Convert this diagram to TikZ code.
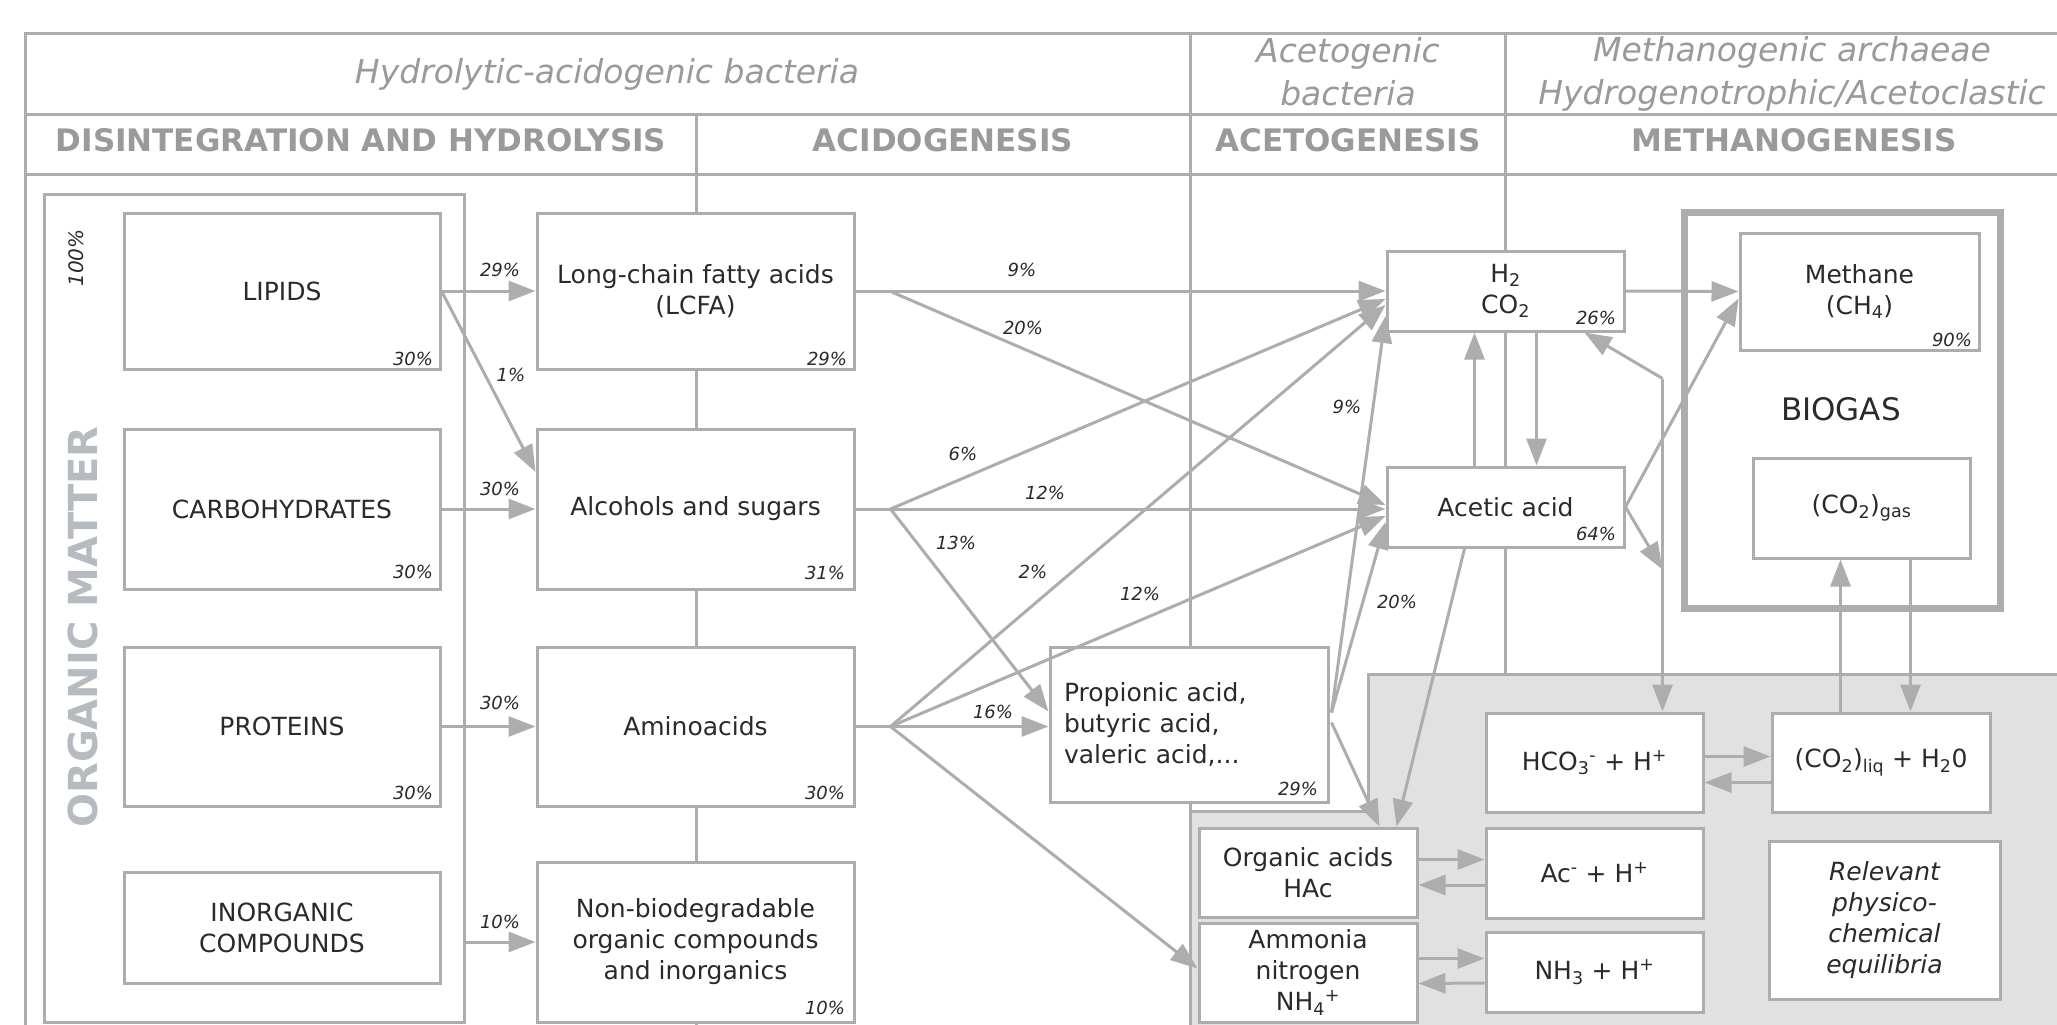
\documentclass[tikz,border=0pt]{standalone}
\usepackage{fontspec}
\setmainfont{DejaVu Sans}
\usetikzlibrary{arrows.meta,calc}
\definecolor{lg}{HTML}{ADADAD}
\definecolor{gfill}{HTML}{E1E1E1}
\definecolor{hdr}{HTML}{9A9A9A}
\definecolor{omc}{HTML}{B6BBC2}
\definecolor{txt}{HTML}{2A2A2A}
\newcommand\bxfont{\fontsize{25}{31}\selectfont}
\newcommand\pcfont{\fontsize{18}{20}\selectfont\itshape}
\newcommand\hbfont{\fontsize{31}{36}\selectfont\bfseries}
\newcommand\hifont{\fontsize{33}{43}\selectfont\itshape}
\begin{document}
\begin{tikzpicture}[x=1pt,y=-1pt,
  frame/.style={draw=lg, line width=3pt},
  box/.style={draw=lg, line width=3pt, fill=white, inner sep=0pt, align=center, text=txt, font=\bxfont},
  arr/.style={draw=lg, line width=3pt, -{Triangle[length=27pt,width=20pt]}},
  pct/.style={font=\pcfont, text=txt, inner sep=0pt},
  hb/.style={font=\hbfont, text=hdr, inner sep=0pt},
  hi/.style={font=\hifont, text=hdr, inner sep=0pt, align=center},
]
\useasboundingbox (0,0) rectangle (2057,1025);
\clip (0,0) rectangle (2057,1025);
\fill[white] (0,0) rectangle (2057,1025);

% table frame
\draw[frame] (25,1040) -- (25,34) -- (2070,34);
\draw[frame] (25,114) -- (2070,114);
\draw[frame] (25,174) -- (2070,174);
\draw[frame] (696,114) -- (696,1040);
\draw[frame] (1190,34) -- (1190,1040);
\draw[frame] (1505,34) -- (1505,674);

% grey equilibria region
\draw[frame, fill=gfill] (1190,811) -- (1368,811) -- (1368,674) -- (2070,674) -- (2070,1040) -- (1190,1040) -- cycle;

% headers
\node[hi] (hHyd) at (607,74) {Hydrolytic-acidogenic bacteria};
\node[hi] (hAce) at (1348,72) {Acetogenic\\bacteria};
\node[hi] (hMet) at (1792,74) {Methanogenic archaeae\\Hydrogenotrophic/Acetoclastic};
\node[hb] (tDis) at (361,140) {DISINTEGRATION AND HYDROLYSIS};
\node[hb] (tAcid) at (943,140) {ACIDOGENESIS};
\node[hb] (tAcet) at (1348,140) {ACETOGENESIS};
\node[hb] (tMeth) at (1794,140) {METHANOGENESIS};

% organic matter
\node[box, minimum width=420pt, minimum height=828pt] (om) at (254,608) {};
\node[font=\fontsize{40}{44}\selectfont\bfseries, text=omc, rotate=90, inner sep=0pt] (omlabel) at (83,627) {ORGANIC MATTER};
\node[font=\fontsize{20}{22}\selectfont\itshape, text=txt, rotate=90, inner sep=0pt] (hundred) at (76,258) {100\%};

\node[box, minimum width=316pt, minimum height=156pt] (lipids) at (282,291) {LIPIDS};
\node[box, minimum width=316pt, minimum height=160pt] (carbo) at (282,509) {CARBOHYDRATES};
\node[box, minimum width=316pt, minimum height=159pt] (proteins) at (282,726.5) {PROTEINS};
\node[box, minimum width=316pt, minimum height=111pt] (inorg) at (282,927.5) {INORGANIC\\COMPOUNDS};

% acidogenesis column
\node[box, minimum width=317pt, minimum height=156pt] (lcfa) at (695.5,291) {Long-chain fatty acids\\(LCFA)};
\node[box, minimum width=317pt, minimum height=160pt] (alc) at (695.5,509) {Alcohols and sugars};
\node[box, minimum width=317pt, minimum height=159pt] (amino) at (695.5,726.5) {Aminoacids};
\node[box, minimum width=317pt, minimum height=160pt] (nonbio) at (695.5,942) {Non-biodegradable\\organic compounds\\and inorganics};

% acetogenesis
\node[box, minimum width=278pt, minimum height=155pt, align=left, text width=250pt] (prop) at (1189,724.5) {Propionic acid,\\butyric acid,\\valeric acid,...};
\node[box, minimum width=237pt, minimum height=80pt] (h2) at (1505.5,291) {H\textsubscript{2}\\CO\textsubscript{2}};
\node[box, minimum width=237pt, minimum height=80pt] (acetic) at (1505.5,507) {Acetic acid};

% biogas
\node[draw=lg, line width=7pt, fill=white, inner sep=0pt, minimum width=316pt, minimum height=396pt] (biogas) at (1842,410) {};
\node[font=\fontsize{31}{36}\selectfont, text=txt, inner sep=0pt] (biogasT) at (1841,409) {BIOGAS};
\node[box, minimum width=239pt, minimum height=117pt] (methane) at (1859.5,291.5) {Methane\\(CH\textsubscript{4})};
\node[box, minimum width=217pt, minimum height=100pt] (co2gas) at (1861.5,508) {(CO\textsubscript{2})\textsubscript{gas}};

% equilibria boxes
\node[box, minimum width=218pt, minimum height=89pt] (orgac) at (1308,872.5) {Organic acids\\HAc};
\node[box, minimum width=218pt, minimum height=99pt] (amm) at (1308,972.5) {Ammonia\\nitrogen\\NH\textsubscript{4}\textsuperscript{+}};
\node[box, minimum width=217pt, minimum height=99pt] (hco3) at (1594.5,762.5) {HCO\textsubscript{3}\textsuperscript{-} + H\textsuperscript{+}};
\node[box, minimum width=218pt, minimum height=99pt] (co2liq) at (1881,762.5) {(CO\textsubscript{2})\textsubscript{liq} + H\textsubscript{2}0};
\node[box, minimum width=217pt, minimum height=90pt] (ac) at (1594.5,873) {Ac\textsuperscript{-} + H\textsuperscript{+}};
\node[box, minimum width=217pt, minimum height=80pt] (nh3) at (1594.5,972) {NH\textsubscript{3} + H\textsuperscript{+}};
\node[box, minimum width=231pt, minimum height=158pt, font=\bxfont\itshape] (relev) at (1884.5,920) {Relevant\\physico-\\chemical\\equilibria};

% percentages inside boxes
\node[pct] (pLip) at (413,359) {30\%};
\node[pct] (pCar) at (413,572) {30\%};
\node[pct] (pPro) at (413,793) {30\%};
\node[pct] (pLcfa) at (827,359) {29\%};
\node[pct] (pAlc) at (825,573) {31\%};
\node[pct] (pAmi) at (825,793) {30\%};
\node[pct] (pNon) at (825,1008) {10\%};
\node[pct] (pProp) at (1298,789) {29\%};
\node[pct] (pH2) at (1596,318) {26\%};
\node[pct] (pAcet) at (1596,534) {64\%};
\node[pct] (pMeth) at (1952,340) {90\%};

% arrows: hydrolysis
\draw[arr] (lipids.east) -- (lcfa.west);
\draw[arr] (lipids.east) -- ($(alc.west)+(0,-37)$);
\draw[arr] (carbo.east) -- (alc.west);
\draw[arr] (proteins.east) -- (amino.west);
\draw[arr] (om.east |- nonbio.west) -- (nonbio.west);

% LCFA
\coordinate (lcfaB) at ($(lcfa.east)+(34,0)$);
\draw[arr] (lcfa.east) -- (h2.west);
\draw[arr] (lcfaB) -- ($(acetic.west)+(0,-2)$);

% alcohols
\coordinate (alcB) at ($(alc.east)+(35,0)$);
\draw[arr] (alc.east) -- (alc.east -| acetic.west);
\draw[arr] (alcB) -- ($(h2.west)+(0,8)$);
\draw[arr] (alcB) -- ($(prop.west)+(0,-13)$);

% aminoacids
\coordinate (amiB) at ($(amino.east)+(35,0)$);
\draw[arr] (amino.east) -- (amino.east -| prop.west);
\draw[arr] (amiB) -- ($(h2.west)+(0,14)$);
\draw[arr] (amiB) -- ($(acetic.west)+(0,9)$);
\draw[arr] (amiB) -- ($(amm.west)+(0,-4)$);

% propionic
\coordinate (propB) at ($(prop.east)+(2,-12)$);
\coordinate (propC) at ($(prop.east)+(2,-2)$);
\draw[arr] (propB) -- ($(h2.west)+(0,25)$);
\draw[arr] (propB) -- ($(acetic.west)+(0,15)$);
\draw[arr] (propC) -- ($(orgac.north east)+(-39,0)$);

% acetic / H2
\draw[arr] ($(acetic.south west)+(79,0)$) -- ($(orgac.north east)+(-22,0)$);
\draw[arr] ($(acetic.north)+(-31,0)$) -- ($(h2.south)+(-31,0)$);
\draw[arr] ($(h2.south)+(31,0)$) -- ($(acetic.north)+(31,0)$);
\draw[arr] (h2.east) -- (methane.west);
\draw[arr] (acetic.east) -- ($(methane.west)+(0,7)$);
\coordinate (hj) at ($(hco3.north east)+(-42,-333)$);
\draw[arr] (acetic.east) -- ($(hj)+(0,191)$);
\draw[arr] (hj) -- ($(h2.south east)+(-41,0)$);
\draw[arr] (hj) -- (hj |- hco3.north);

% equilibria
\draw[arr] ($(hco3.east)+(0,-6)$) -- ($(co2liq.west)+(0,-6)$);
\draw[arr] ($(co2liq.west)+(0,20)$) -- ($(hco3.east)+(0,20)$);
\draw[arr] ($(orgac.east)+(0,-13)$) -- ($(ac.west)+(0,-13.5)$);
\draw[arr] ($(ac.west)+(0,12)$) -- ($(orgac.east)+(0,12.5)$);
\draw[arr] ($(amm.east)+(0,-14)$) -- ($(nh3.west)+(0,-13.5)$);
\draw[arr] ($(nh3.west)+(0,11)$) -- ($(amm.east)+(0,11)$);
\draw[arr] ($(co2liq.north west)+(70,0)$) -- ($(co2gas.south west)+(89,0)$);
\draw[arr] ($(co2gas.south west)+(159,0)$) -- ($(co2liq.north west)+(140,0)$);

% arrow labels
\node[pct] (l29) at (500,270) {29\%};
\node[pct] (l1) at (511,375) {1\%};
\node[pct] (l30a) at (500,489) {30\%};
\node[pct] (l30b) at (500,703) {30\%};
\node[pct] (l10) at (500,922) {10\%};
\node[pct] (l9a) at (1022,270) {9\%};
\node[pct] (l20a) at (1023,328) {20\%};
\node[pct] (l6) at (963,454) {6\%};
\node[pct] (l12a) at (1045,493) {12\%};
\node[pct] (l13) at (956,543) {13\%};
\node[pct] (l2) at (1033,572) {2\%};
\node[pct] (l12b) at (1140,594) {12\%};
\node[pct] (l16) at (993,712) {16\%};
\node[pct] (l9b) at (1347,407) {9\%};
\node[pct] (l20b) at (1397,602) {20\%};
\end{tikzpicture}
\end{document}
